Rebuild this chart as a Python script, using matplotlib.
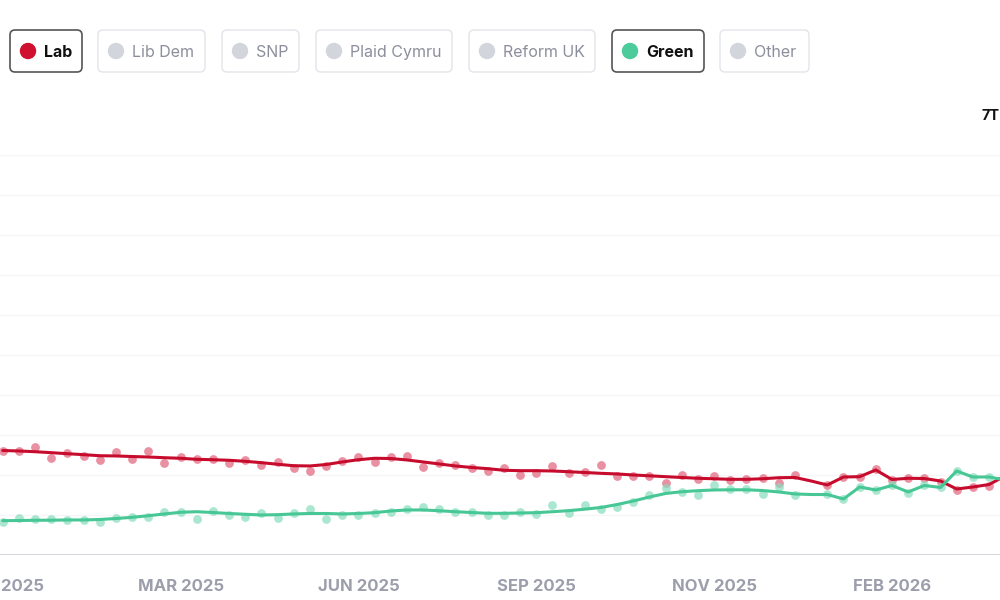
import numpy as np
import matplotlib.pyplot as plt
from matplotlib.patches import FancyBboxPatch, Circle

plt.rcParams['font.family'] = ['Inter', 'DejaVu Sans']

# Weekly poll index (week 0 = early Jan 2025)
weeks = np.arange(63)

# Labour: individual polls and trend (NaN = no poll that week)
lab_polls = [13.04, 13.04, 13.46, 12.16, 12.79, 12.38, 11.88, 12.91, 11.96, 13.04,
             11.54, 12.29, 11.96, 11.96, 11.54, 11.88, 11.21, 11.66, 10.84, 10.54,
             11.16, 11.79, 12.29, 11.66, 12.29, 12.38, 11.04, 11.54, 11.25, 10.84,
             10.54, 10.84, 10.00, 10.29, 11.13, 10.29, 10.41, 11.25, 9.88, 9.88,
             9.88, 8.96, 10.00, 9.46, 9.88, 9.38, 9.46, 9.59, 9.04, 10.00,
             np.nan, 8.75, 9.79, 9.79, 10.71, 9.38, 9.59, 9.59, 9.16, 8.13,
             8.46, 8.63, 9.75]
lab_trend = [13.06, 13.00, 12.91, 12.79, 12.66, 12.54, 12.41, 12.38, 12.31, 12.25,
             12.16, 12.09, 11.96, 11.91, 11.84, 11.71, 11.54, 11.34, 11.16, 11.13,
             11.31, 11.63, 11.91, 12.09, 12.06, 11.88, 11.63, 11.38, 11.13, 10.94,
             10.79, 10.59, 10.54, 10.54, 10.50, 10.41, 10.31, 10.21, 10.13, 10.00,
             9.90, 9.79, 9.69, 9.59, 9.53, 9.46, 9.46, 9.53, 9.66, 9.69,
             9.25, 8.75, 9.75, 9.79, 10.63, 9.44, 9.59, 9.56, 9.25, 8.25,
             8.50, 8.81, 9.88]

# Green
green_polls = [4.16, 4.59, 4.50, 4.50, 4.38, 4.38, 4.16, 4.59, 4.71, 4.79,
               5.34, 5.41, 4.46, 5.54, 5.00, 4.71, 5.29, 4.59, 5.21, 5.71,
               4.46, 5.00, 5.00, 5.29, 5.41, 5.75, 5.96, 5.75, 5.41, 5.41,
               5.00, 5.00, 5.41, 5.13, 6.25, 5.21, 6.25, 5.69, 5.96, 6.66,
               7.50, 8.34, 7.91, 7.50, 8.75, 8.21, 8.21, 7.63, 8.54, 7.50,
               np.nan, 7.63, 6.96, 8.54, 8.13, 8.75, 7.79, 8.75, 8.46, 10.54,
               9.71, 9.79, 9.50]
green_trend = [4.29, 4.31, 4.34, 4.35, 4.38, 4.38, 4.44, 4.56, 4.71, 4.91,
               5.13, 5.34, 5.41, 5.31, 5.19, 5.09, 5.00, 5.04, 5.13, 5.19,
               5.19, 5.13, 5.19, 5.29, 5.50, 5.63, 5.63, 5.53, 5.41, 5.31,
               5.21, 5.21, 5.25, 5.29, 5.41, 5.54, 5.73, 5.94, 6.31, 6.75,
               7.25, 7.69, 7.91, 8.04, 8.13, 8.15, 8.15, 8.06, 7.88, 7.63,
               7.56, 7.56, 7.00, 8.50, 8.13, 8.69, 7.88, 8.69, 8.44, 10.50,
               9.75, 9.75, 9.38]

tick_weeks = [0, 11, 22, 33, 44, 55]
tick_labels = ['JAN 2025', 'MAR 2025', 'JUN 2025', 'SEP 2025', 'NOV 2025', 'FEB 2026']

parties = ['Lab', 'Lib Dem', 'SNP', 'Plaid Cymru', 'Reform UK', 'Green', 'Other']
selected = ['Lab', 'Green']
party_colours = {'Lab': '#d0102f', 'Green': '#4ccb9b'}

# Layout (pixels) for the party buttons
btn_left = [10, 98, 222, 316, 469, 612, 720]
btn_right = [82, 205, 299, 452, 595, 704, 809]

fig = plt.figure(figsize=(10, 6), dpi=100)
ax = fig.add_axes([0, 0.075, 1, 0.6667])

# Grid (very faint)
for g in np.arange(5, 51, 5):
    ax.axhline(g, color='#f6f6f8', lw=1, zorder=0)
ax.axhline(0, color='#d2d3d9', lw=2, zorder=1)

# Polls and trends
ax.scatter(weeks, lab_polls, s=40, color='#e0637b', alpha=0.7, lw=0, zorder=2)
ax.scatter(weeks, green_polls, s=40, color='#86dcbc', alpha=0.7, lw=0, zorder=2)
ax.plot(weeks, lab_trend, color='#c70b2d', lw=2.2, zorder=3,
        solid_capstyle='round', solid_joinstyle='round')
ax.plot(weeks, green_trend, color='#46c795', lw=2.2, zorder=3,
        solid_capstyle='round', solid_joinstyle='round')

ax.set_xlim(-0.17, 61.68)
ax.set_ylim(0, 50)
ax.set_xticks(tick_weeks)
ax.set_xticklabels(tick_labels, fontsize=12, fontweight='bold', color='#9c9eac')
ax.tick_params(axis='x', length=0, pad=17)
ax.set_yticks([])
for s in ax.spines.values():
    s.set_visible(False)

# Overlay in pixel coordinates for the buttons
ov = fig.add_axes([0, 0, 1, 1], zorder=5)
ov.set_xlim(0, 1000)
ov.set_ylim(600, 0)
ov.axis('off')

for name, x0, x1 in zip(parties, btn_left, btn_right):
    on = name in selected
    box = FancyBboxPatch((x0, 30), x1 - x0, 42,
                         boxstyle='round,pad=0,rounding_size=5',
                         fc='white', ec='#555555' if on else '#e3e4ea',
                         lw=1.2 if on else 1.0)
    ov.add_patch(box)
    ov.add_patch(Circle((x0 + 18, 51), 7.5,
                        color=party_colours.get(name, '#d3d5dd') if on else '#d3d5dd'))
    ov.text(x0 + 34, 52.5, name, va='center', ha='left', fontsize=11.5,
            fontweight='bold' if on else 'normal',
            color='#111111' if on else '#8c8e9c')

ov.text(982, 116, '7T', va='center', ha='left', fontsize=10.5,
        fontweight='bold', color='#111111')

plt.savefig('out.png', dpi=100)
